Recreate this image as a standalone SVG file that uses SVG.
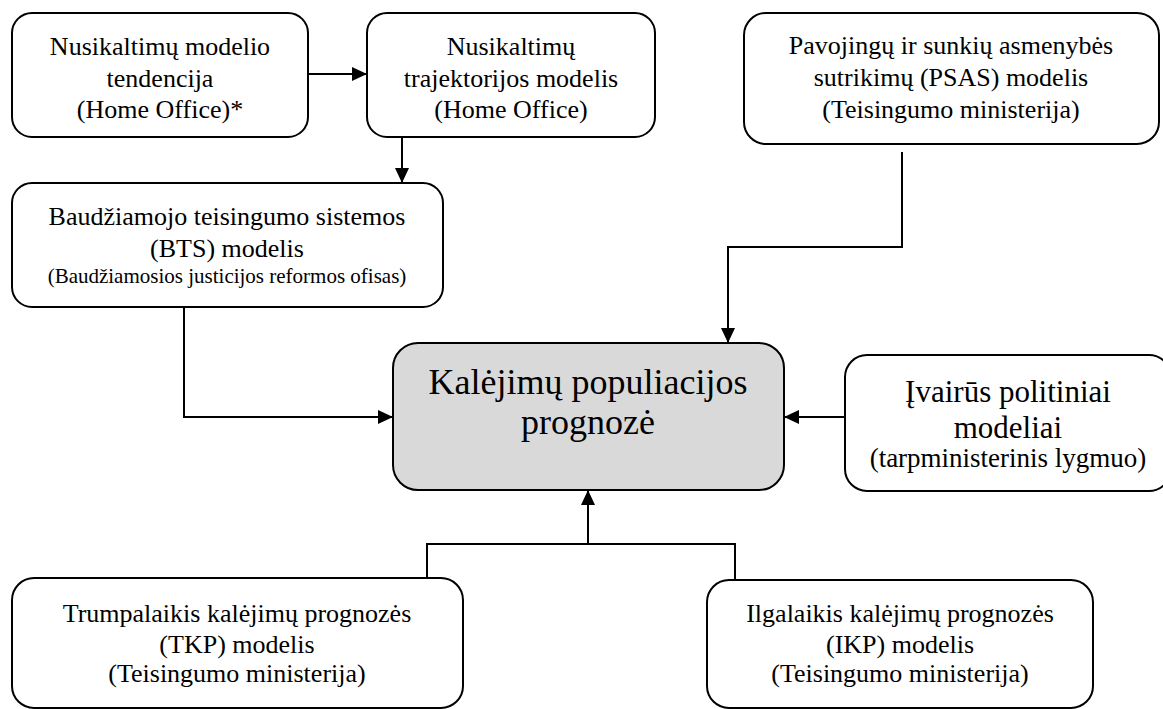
<svg xmlns="http://www.w3.org/2000/svg" width="1163" height="709" viewBox="0 0 1163 709">
<defs>
<marker id="arr" markerWidth="15" markerHeight="14" refX="15" refY="7" orient="auto" markerUnits="userSpaceOnUse">
<path d="M0,0 L15,7 L0,14 Z" fill="#000"/>
</marker>
</defs>
<style>
.box{fill:#fff;stroke:#000;stroke-width:2}
.main{fill:#d9d9d9;stroke:#000;stroke-width:2}
.t{font-family:"Liberation Serif","Times New Roman",serif;font-size:26px;fill:#000;text-anchor:middle}
.s{font-size:21px}
.big{font-size:36px}
.mid{font-size:31px}
.sub{font-size:27px}
.conn{fill:none;stroke:#000;stroke-width:2}
</style>
<rect width="1163" height="709" fill="#fff"/>
<g id="connectors">
<path class="conn" d="M308,74 H367" marker-end="url(#arr)"/>
<path class="conn" d="M402,137 V183" marker-end="url(#arr)"/>
<path class="conn" d="M902,152 V247 H728 V343" marker-end="url(#arr)"/>
<path class="conn" d="M184,307 V417 H393" marker-end="url(#arr)"/>
<path class="conn" d="M845,417 H784" marker-end="url(#arr)"/>
<path class="conn" d="M427,578 V544 H735 V580"/>
<path class="conn" d="M588,544 V490" marker-end="url(#arr)"/>
</g>
<g id="node-tendencija">
<rect class="box" x="12" y="13" width="296" height="124" rx="20"/>
<text class="t" x="160" y="55">Nusikaltimų modelio</text>
<text class="t" x="160" y="87">tendencija</text>
<text class="t" x="160" y="118">(Home Office)*</text>
</g>
<g id="node-trajektorija">
<rect class="box" x="367" y="13" width="288" height="124" rx="20"/>
<text class="t" x="511" y="55">Nusikaltimų</text>
<text class="t" x="511" y="87">trajektorijos modelis</text>
<text class="t" x="511" y="118">(Home Office)</text>
</g>
<g id="node-psas">
<rect class="box" x="744" y="13" width="415" height="131" rx="22"/>
<text class="t" x="951" y="54">Pavojingų ir sunkių asmenybės</text>
<text class="t" x="951" y="86">sutrikimų (PSAS) modelis</text>
<text class="t" x="951" y="118">(Teisingumo ministerija)</text>
</g>
<g id="node-bts">
<rect class="box" x="12" y="183" width="431" height="124" rx="20"/>
<text class="t" x="227" y="225">Baudžiamojo teisingumo sistemos</text>
<text class="t" x="227" y="257">(BTS) modelis</text>
<text class="t s" x="227" y="283">(Baudžiamosios justicijos reformos ofisas)</text>
</g>
<g id="node-main">
<rect class="main" x="393" y="343" width="391" height="147" rx="25"/>
<text class="t big" x="588" y="394">Kalėjimų populiacijos</text>
<text class="t big" x="588" y="434">prognozė</text>
</g>
<g id="node-politiniai">
<rect class="box" x="845" y="355" width="326" height="136" rx="22"/>
<text class="t mid" x="1008" y="402">Įvairūs politiniai</text>
<text class="t mid" x="1008" y="438">modeliai</text>
<text class="t sub" x="1008" y="467">(tarpministerinis lygmuo)</text>
</g>
<g id="node-tkp">
<rect class="box" x="12" y="578" width="451" height="130" rx="22"/>
<text class="t" x="237" y="622">Trumpalaikis kalėjimų prognozės</text>
<text class="t" x="237" y="653">(TKP) modelis</text>
<text class="t" x="237" y="682">(Teisingumo ministerija)</text>
</g>
<g id="node-ikp">
<rect class="box" x="707" y="580" width="386" height="128" rx="22"/>
<text class="t" x="900" y="622">Ilgalaikis kalėjimų prognozės</text>
<text class="t" x="900" y="653">(IKP) modelis</text>
<text class="t" x="900" y="682">(Teisingumo ministerija)</text>
</g>
</svg>
